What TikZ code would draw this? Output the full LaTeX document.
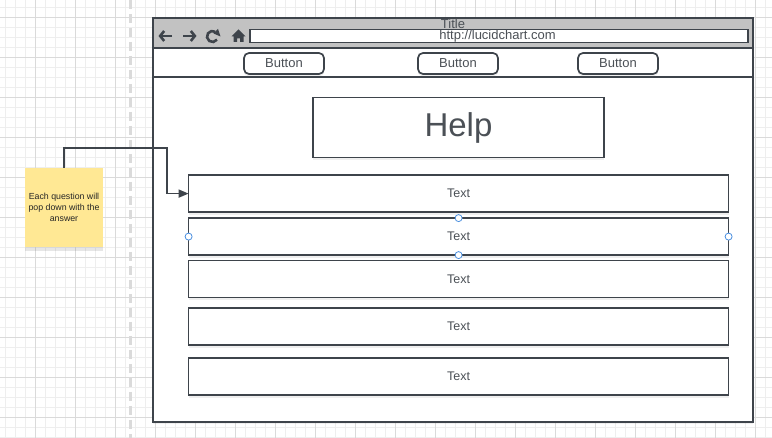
\documentclass[tikz,border=0pt]{standalone}
\usepackage{fontspec}
\setmainfont{Liberation Sans}
\usetikzlibrary{positioning,arrows.meta,shadows}
\definecolor{edge}{HTML}{3E444B}
\definecolor{ink}{HTML}{4B5056}
\definecolor{barfill}{HTML}{C2C2C2}
\definecolor{stickyfill}{HTML}{FFE894}
\definecolor{gridminor}{HTML}{EEEEEE}
\definecolor{gridmajor}{HTML}{DADADA}
\definecolor{pick}{HTML}{4A8FE0}

\tikzset{
  soft/.style={drop shadow={opacity=0.12, shadow xshift=0pt, shadow yshift=-2.5pt}},
  box/.style={draw=edge, line width=1.7pt, fill=white, text=ink, inner sep=0pt, outer sep=0pt},
  btn/.style={box, soft, rounded corners=5pt, minimum width=80pt, minimum height=21pt, font=\fontsize{13}{15}\selectfont},
  row/.style={box, soft, minimum width=540pt, minimum height=37pt, font=\fontsize{12.5}{15}\selectfont},
  handle/.style={circle, draw=pick, fill=white, line width=0.8pt, inner sep=0pt, minimum size=7pt},
  icon/.style={draw=edge, line width=2.6pt},
}

\begin{document}
\begin{tikzpicture}[x=1pt, y=-1pt]
\useasboundingbox (0,0) rectangle (772,438);

% Grid
\foreach \x in {5,15,...,765} \draw[gridminor, line width=0.6pt] (\x,0) -- (\x,438);
\foreach \y in {7,17,...,437} \draw[gridminor, line width=0.6pt] (0,\y) -- (772,\y);
\foreach \x in {35,75,...,755} \draw[gridmajor, line width=0.7pt] (\x,0) -- (\x,438);
\foreach \y in {17,57,...,417} \draw[gridmajor, line width=0.7pt] (0,\y) -- (772,\y);
\draw[gridmajor, line width=3pt, dash pattern=on 9pt off 5pt] (130,0) -- (130,438);

% Browser window
\node[box, soft, minimum width=600pt, minimum height=404pt] (win) at (453,220) {};
\node[box, fill=barfill, minimum width=600pt, minimum height=30pt] (titlebar) at (453,33) {};
\node[box, minimum width=600pt, minimum height=29pt] (navbar) at (453,62.5) {};
\node[box, line width=1.5pt, minimum width=498pt, minimum height=13pt] (addr) at (499,36) {};
\node[text=ink, font=\fontsize{13}{15}\selectfont, inner sep=0pt] (title) at (453,23.5) {Title};
\node[text=ink, font=\fontsize{13}{15}\selectfont, inner sep=0pt] (url) at (497.5,36) {http://lucidchart.com};

% Icons
\draw[icon, -{Straight Barb[length=4pt, width=10pt]}] (172,36) -- (158.5,36);
\draw[icon, -{Straight Barb[length=4pt, width=10pt]}] (183,36) -- (196.5,36);
\draw[icon] (212.5,36.5) ++(-35:5.5pt) arc[start angle=-35, end angle=-300, radius=5.5pt];
\fill[edge] (218,29) -- (220.5,36.5) -- (213.5,33.5) -- cycle;
\fill[edge] (231.5,36.5) -- (238.5,29.5) -- (245.5,36.5) -- (243.5,36.5) -- (243.5,42) -- (240,42)
  -- (240,38.5) -- (237,38.5) -- (237,42) -- (233.5,42) -- (233.5,36.5) -- cycle;

% Buttons
\node[btn] (btnA) at (284,63.5) {Button};
\node[btn] (btnB) at (458,63.5) {Button};
\node[btn] (btnC) at (618,63.5) {Button};

% Help page
\node[box, soft, minimum width=291pt, minimum height=60pt, font=\fontsize{33}{38}\selectfont] (help) at (458.5,127.5) {Help};
\node[row] (row1) at (458.6,193.6) {Text};
\node[row, below=6pt of row1] (row2) {Text};
\node[row, below=5.5pt of row2] (row3) {Text};
\node[row, below=10.5pt of row3] (row4) {Text};
\node[row, below=13pt of row4] (row5) {Text};

% Selection handles
\foreach \a in {north, south, west, east} \node[handle] at (row2.\a) {};

% Sticky note
\node[fill=stickyfill, drop shadow={opacity=0.2, shadow xshift=0pt, shadow yshift=-4pt},
  minimum width=78pt, minimum height=79pt, align=center, inner sep=0pt,
  font=\fontsize{8.8}{11}\selectfont, text=black!85] (note) at (64,207.5)
  {Each question will\\pop down with the\\answer};

% Connector
\coordinate (turn) at (166.7,148);
\draw[edge, line width=1.7pt, -{Triangle[length=10pt, width=8pt]}] (note.north) |- (turn) |- (row1.west);

\end{tikzpicture}
\end{document}
